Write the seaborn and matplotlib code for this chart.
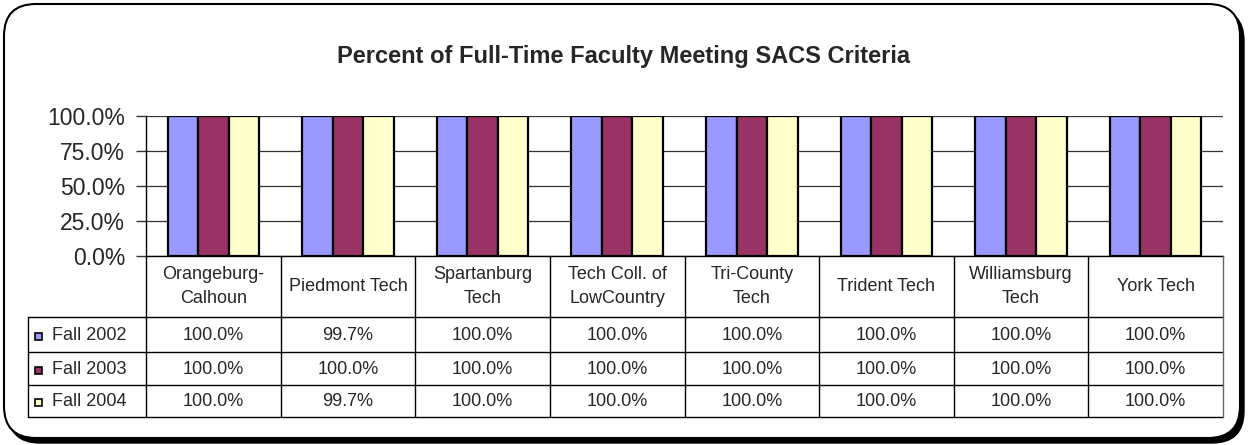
import numpy as np
import pandas as pd
import seaborn as sns
import matplotlib.pyplot as plt
from matplotlib.patches import FancyBboxPatch, Rectangle
from matplotlib.lines import Line2D
from matplotlib.ticker import PercentFormatter
from matplotlib.transforms import IdentityTransform

# Dados
colleges = ["Orangeburg-\nCalhoun", "Piedmont Tech", "Spartanburg\nTech", "Tech Coll. of\nLowCountry",
            "Tri-County\nTech", "Trident Tech", "Williamsburg\nTech", "York Tech"]
terms = ["Fall 2002", "Fall 2003", "Fall 2004"]
fall_2002 = [100.0, 99.7, 100.0, 100.0, 100.0, 100.0, 100.0, 100.0]
fall_2003 = [100.0, 100.0, 100.0, 100.0, 100.0, 100.0, 100.0, 100.0]
fall_2004 = [100.0, 99.7, 100.0, 100.0, 100.0, 100.0, 100.0, 100.0]
colors = ["#9999FF", "#993366", "#FFFFCC"]
y_ticks = [0, 25, 50, 75, 100]

df = pd.DataFrame({
    "college": colleges * 3,
    "term": np.repeat(terms, len(colleges)),
    "pct": fall_2002 + fall_2003 + fall_2004,
})
series = [fall_2002, fall_2003, fall_2004]

sns.set_style("white")
plt.rcParams["font.family"] = ["Liberation Sans", "DejaVu Sans"]

W, H = 1250, 445
fig = plt.figure(figsize=(W / 100, H / 100), dpi=100)

# moldura arredondada com sombra
shadow = FancyBboxPatch((8, 2), 1236, 434, boxstyle="round,pad=0,rounding_size=32",
                        transform=IdentityTransform(), facecolor="black", edgecolor="black", zorder=0)
frame = FancyBboxPatch((4, 7), 1236, 434, boxstyle="round,pad=0,rounding_size=32",
                       transform=IdentityTransform(), facecolor="white", edgecolor="black", lw=1.5, zorder=0)
fig.add_artist(shadow)
fig.add_artist(frame)

def fx(px):
    return px / W

def fy(py):
    return 1 - py / H

left, right, top, bottom = 146, 1223, 116, 256
ax = fig.add_axes([fx(left), fy(bottom), fx(right - left), (bottom - top) / H])
ax.patch.set_alpha(0)

sns.barplot(data=df, x="college", y="pct", hue="term", palette=colors, saturation=1,
            width=0.68, gap=0, edgecolor="black", linewidth=1.6, legend=False, ax=ax, zorder=3)

ax.set_xlim(-0.5, len(colleges) - 0.5)
ax.set_ylim(0, 100)
ax.set_yticks(y_ticks)
ax.yaxis.set_major_formatter(PercentFormatter(xmax=100, decimals=1))
ax.yaxis.grid(True, color="#333333", lw=0.9)
ax.set_axisbelow(True)
ax.set_xticks([])
ax.set_xlabel("")
ax.set_ylabel("")
ax.tick_params(axis="y", left=True, direction="out", length=7, width=1, pad=8, labelsize=16.5, color="#333333")
for s in ["top", "right"]:
    ax.spines[s].set_visible(False)
for s in ["left", "bottom"]:
    ax.spines[s].set_color("black")
    ax.spines[s].set_linewidth(1)

fig.text(fx(624), fy(56), "Percent of Full-Time Faculty Meeting SACS Criteria",
         ha="center", va="center", fontsize=17, fontweight="bold")

# tabela de dados
row_y = [256, 317, 352, 385, 417]
tbl_left = 28
col_w = (right - left) / len(colleges)
fs = 13
lc = "black"
for y in row_y[1:]:
    fig.add_artist(Line2D([fx(tbl_left), fx(right)], [fy(y), fy(y)], color=lc, lw=1))
fig.add_artist(Line2D([fx(tbl_left), fx(tbl_left)], [fy(row_y[1]), fy(row_y[-1])], color=lc, lw=1))
for i in range(len(colleges) + 1):
    x = left + i * col_w
    fig.add_artist(Line2D([fx(x), fx(x)], [fy(row_y[0]), fy(row_y[-1])],
                          color="#666666" if i == len(colleges) else lc, lw=1))

for i, name in enumerate(colleges):
    cx = left + (i + 0.5) * col_w
    fig.text(fx(cx), fy((row_y[0] + row_y[1]) / 2), name, ha="center", va="center",
             fontsize=fs, linespacing=1.55)
    for j, vals in enumerate(series):
        fig.text(fx(cx), fy((row_y[j + 1] + row_y[j + 2]) / 2 + 1), f"{vals[i]:.1f}%",
                 ha="center", va="center", fontsize=fs)

for j, t in enumerate(terms):
    cy = (row_y[j + 1] + row_y[j + 2]) / 2 + 1
    fig.add_artist(Rectangle((fx(35), fy(cy + 4)), fx(7), 7 / H, facecolor=colors[j],
                             edgecolor="black", lw=1.2))
    fig.text(fx(52), fy(cy), t, ha="left", va="center", fontsize=fs)

plt.savefig("out.png", dpi=100)
